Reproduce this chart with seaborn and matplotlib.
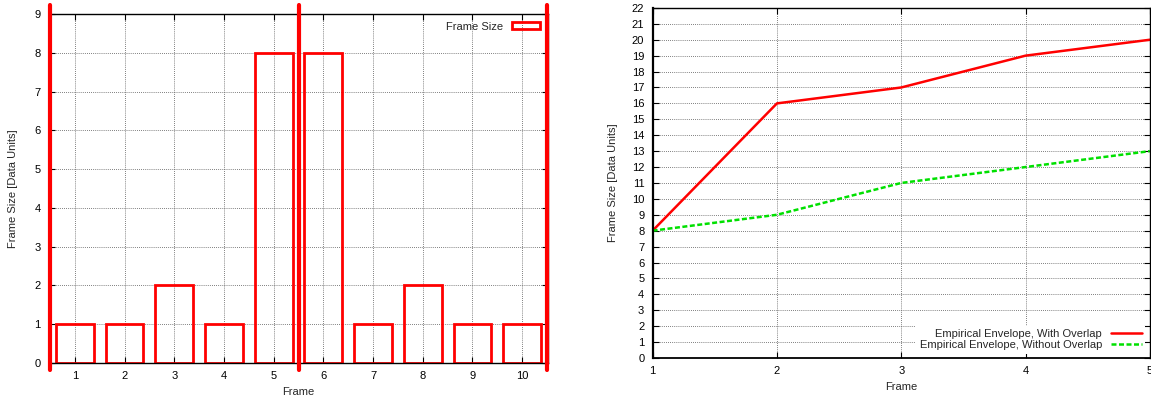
import matplotlib
matplotlib.use("Agg")
import matplotlib.pyplot as plt
import seaborn as sns
import pandas as pd
from matplotlib.patches import Patch
from matplotlib.lines import Line2D

frames = [1, 2, 3, 4, 5, 6, 7, 8, 9, 10]
frame_sizes = [1, 1, 2, 1, 8, 8, 1, 2, 1, 1]
boundaries = [0.5, 5.5, 10.5]

env_frames = [1, 2, 3, 4, 5]
env_with_overlap = [8, 16, 17, 19, 20]
env_without_overlap = [8, 9, 11, 12, 13]

sns.set_theme(style="white")
plt.rcParams['font.family'] = ['Liberation Sans', 'DejaVu Sans']
plt.rcParams['font.size'] = 8

fig = plt.figure(figsize=(11.51, 3.96), dpi=100)
ax1 = fig.add_axes([0.0426, 0.0833, 0.4335, 0.8813])
ax2 = fig.add_axes([0.567, 0.096, 0.432, 0.884])

grid_kw = dict(color='#555555', linestyle=(0, (1, 1.5)), linewidth=0.6)

# Left panel
df1 = pd.DataFrame({"Frame": frames, "Size": frame_sizes})
sns.barplot(data=df1, x="Frame", y="Size", ax=ax1, native_scale=True,
            fill=False, edgecolor='red', linewidth=2, width=0.76, errorbar=None)
for p in ax1.patches:
    p.set_edgecolor('red')
    p.set_facecolor('none')
ax1.set_xlim(0.48, 10.52)
ax1.set_ylim(0, 9)
ax1.set_xticks(frames)
ax1.set_yticks(range(0, 10))
ax1.grid(True, **grid_kw)
ax1.set_axisbelow(True)
trans = ax1.get_xaxis_transform()
for b in boundaries:
    ax1.plot([b, b], [-0.02, 1.026], color='red', linewidth=3, transform=trans, clip_on=False, zorder=5)
ax1.set_xlabel("Frame", fontsize=8)
ax1.set_ylabel("Frame Size [Data Units]", fontsize=8, labelpad=12)
ax1.legend(handles=[Patch(facecolor='none', edgecolor='red', linewidth=2, label='Frame Size')],
           loc='upper right', frameon=False, markerfirst=False, fontsize=8,
           handlelength=2.5, handleheight=0.6, borderaxespad=0.3)

# Right panel
df2 = pd.DataFrame({"Frame": env_frames * 2,
                    "Size": env_with_overlap + env_without_overlap,
                    "Series": ["Empirical Envelope, With Overlap"] * 5 + ["Empirical Envelope, Without Overlap"] * 5})
sns.lineplot(data=df2, x="Frame", y="Size", hue="Series", style="Series",
             palette=['#ff0000', '#00e000'], dashes=[(None, None), (2, 1)],
             linewidth=1.8, ax=ax2, legend=False)
ax2.set_xlim(1, 5)
ax2.set_ylim(0, 22)
ax2.set_xticks(env_frames)
ax2.set_yticks(range(0, 23))
ax2.grid(True, **grid_kw)
ax2.set_axisbelow(True)
ax2.set_xlabel("Frame", fontsize=8)
ax2.set_ylabel("Frame Size [Data Units]", fontsize=8, labelpad=10)
handles = [Line2D([], [], color='#ff0000', linewidth=1.8, label='Empirical Envelope, With Overlap'),
           Line2D([], [], color='#00e000', linewidth=1.8, linestyle=(0, (2, 1)), label='Empirical Envelope, Without Overlap')]
leg = ax2.legend(handles=handles, loc='lower right', markerfirst=False, fontsize=8,
                 frameon=True, fancybox=False, handlelength=2.8, borderaxespad=0.4,
                 labelspacing=0.1, borderpad=0.3)
leg.get_frame().set_edgecolor('none')
leg.get_frame().set_facecolor('white')
leg.get_frame().set_alpha(1)

for ax in (ax1, ax2):
    for s in ax.spines.values():
        s.set_color('black')
        s.set_linewidth(1)
    ax.tick_params(direction='in', top=True, right=True, length=4, width=0.8,
                   labelsize=8, colors='black', bottom=True, left=True, pad=6)
ax2.spines['left'].set_linewidth(1.6)
ax2.spines['bottom'].set_linewidth(1.3)

fig.savefig("out.png", dpi=100)
